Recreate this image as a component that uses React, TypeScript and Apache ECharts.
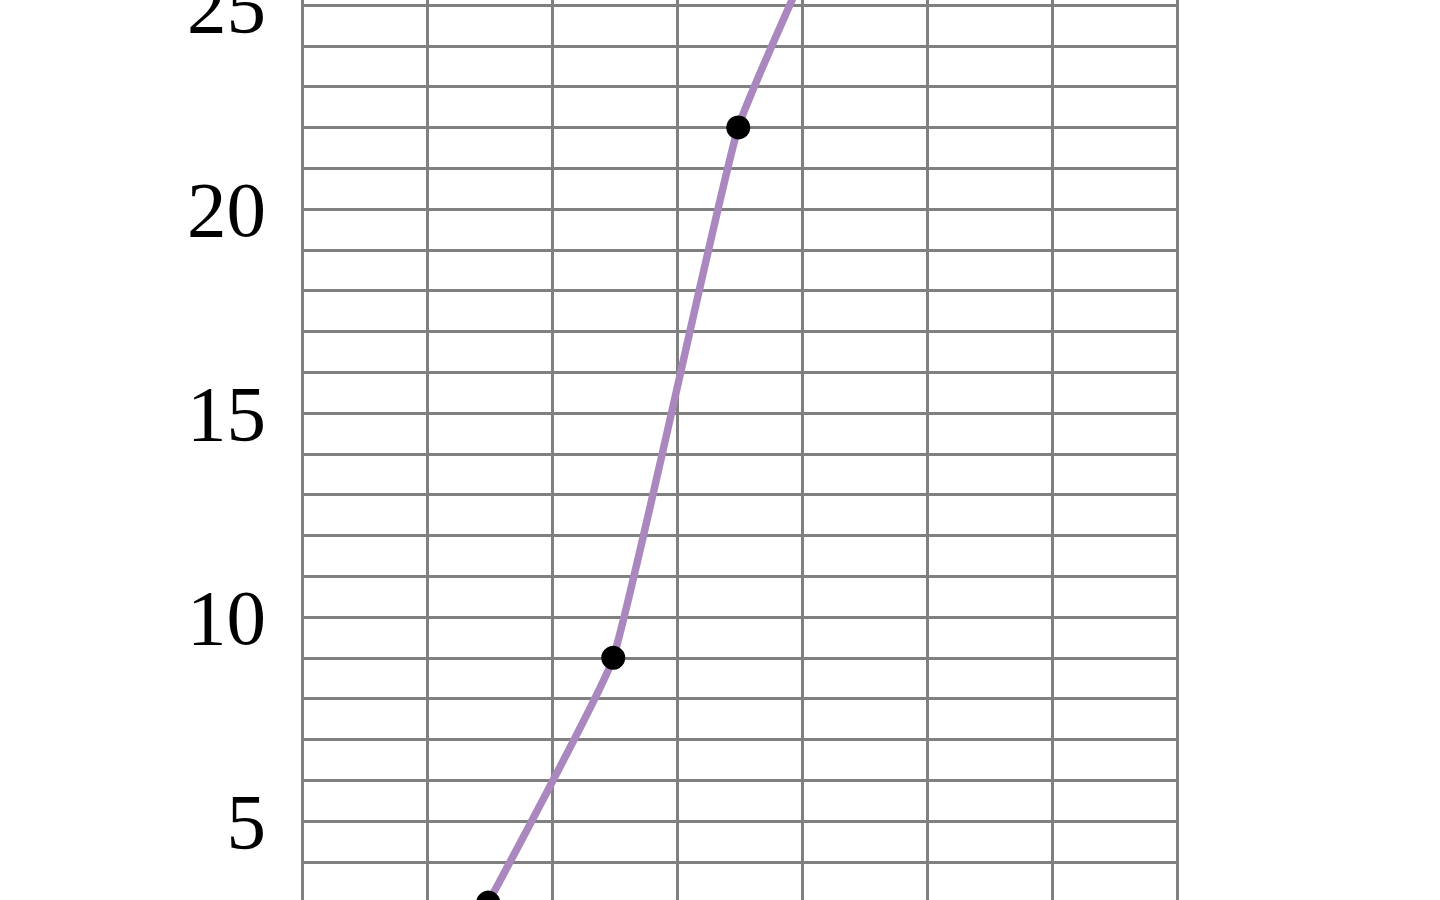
import React, { useEffect, useRef } from "react";
import * as echarts from "echarts";

const xValues = [1.49, 2.49, 3.49, 4.49];
const yValues = [3, 9, 22, 29];
const yLabelStep = 5;

export default function App() {
  const ref = useRef<HTMLDivElement>(null);
  useEffect(() => {
    if (!ref.current) return;
    const chart = echarts.init(ref.current, undefined, { renderer: "svg" });
    chart.setOption({
      animation: false,
      backgroundColor: "#ffffff",
      grid: { left: 302, right: 263, top: 64.2, bottom: 97.4 },
      xAxis: {
        type: "value",
        min: 0,
        max: 7,
        interval: 1,
        axisLine: { show: false },
        axisTick: { show: false },
        axisLabel: { show: false },
        splitLine: { show: true, lineStyle: { color: "#808080", width: 3 } },
      },
      yAxis: {
        type: "value",
        min: 3,
        max: 26,
        interval: 1,
        axisLine: { show: false },
        axisTick: { show: false },
        axisLabel: {
          margin: 36,
          color: "#000000",
          fontFamily: "Liberation Serif",
          fontSize: 79,
          formatter: (v: number) => (v % yLabelStep === 0 ? String(v) : ""),
        },
        splitLine: { show: true, lineStyle: { color: "#808080", width: 3 } },
      },
      series: [
        {
          type: "line",
          data: xValues.map((x, i) => [x, yValues[i]]),
          smooth: 0.12,
          symbol: "circle",
          symbolSize: 24,
          itemStyle: { color: "#000000" },
          lineStyle: { color: "#ab87c0", width: 7.5 },
          z: 3,
        },
      ],
    });
    return () => chart.dispose();
  }, []);
  return (
    <div
      style={{
        position: "fixed",
        left: 0,
        top: 0,
        width: 1440,
        height: 900,
        overflow: "hidden",
        background: "#fff",
      }}
    >
      <div
        ref={ref}
        style={{ position: "absolute", left: 0, top: -100, width: 1440, height: 1100 }}
      />
    </div>
  );
}
